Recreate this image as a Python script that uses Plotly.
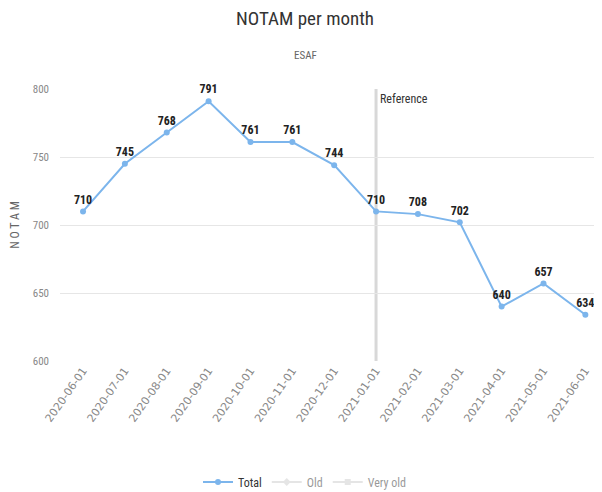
import plotly.graph_objects as go

months = ["2020-06-01", "2020-07-01", "2020-08-01", "2020-09-01", "2020-10-01",
          "2020-11-01", "2020-12-01", "2021-01-01", "2021-02-01", "2021-03-01",
          "2021-04-01", "2021-05-01", "2021-06-01"]
total = [710, 745, 768, 791, 761, 761, 744, 710, 708, 702, 640, 657, 634]
reference_month = "2021-01-01"
y_ticks = [600, 650, 700, 750, 800]

FONT = "Liberation Sans Narrow, Roboto Condensed, Arial Narrow, sans-serif"
WIDE = "DejaVu Sans, sans-serif"

# page body has an 8px default margin, so the figure is sized to fit the 602x492 window
W, H = 594, 484
L, R, T, B = 52, 2, 81, 131
PH = H - T - B
PW = W - L - R

fig = go.Figure()
fig.add_trace(go.Scatter(
    x=months, y=total, name="Total", mode="lines+markers+text",
    line=dict(color="#7cb5ec", width=2),
    marker=dict(color="#7cb5ec", size=6, symbol="circle"),
    text=["<b>%d</b>" % v for v in total], textposition="top center",
    textfont=dict(family=FONT, size=12, color="#222222"),
    cliponaxis=False,
))
fig.add_trace(go.Scatter(
    x=months, y=[None] * len(months), name="Old", mode="lines+markers",
    line=dict(color="#cccccc", width=2), marker=dict(color="#cccccc", symbol="diamond"),
    visible="legendonly",
))
fig.add_trace(go.Scatter(
    x=months, y=[None] * len(months), name="Very old", mode="lines+markers",
    line=dict(color="#cccccc", width=2), marker=dict(color="#cccccc", symbol="square"),
    visible="legendonly",
))

fig.add_shape(type="line", xref="x", yref="paper", x0=reference_month, x1=reference_month,
              y0=0, y1=1, line=dict(color="#d8d8d8", width=3), layer="below")
fig.add_annotation(x=reference_month, xref="x", y=1, yref="paper", text="Reference",
                   showarrow=False, xanchor="left", yanchor="top", xshift=2, yshift=-1,
                   font=dict(family=FONT, size=12, color="#333333"))

fig.update_layout(
    width=W, height=H,
    paper_bgcolor="white", plot_bgcolor="white",
    margin=dict(l=L, r=R, t=T, b=B, autoexpand=False),
    title=dict(text="NOTAM per month", x=0.5, xanchor="center", y=1 - 10 / H, yanchor="middle",
               font=dict(family=FONT, size=19, color="#333333")),
    font=dict(family=FONT, color="#666666"),
    showlegend=True,
    legend=dict(orientation="h", x=(297 - L) / PW, xref="paper", xanchor="center",
                y=-(474 - T - PH) / PH, yanchor="middle", itemwidth=30,
                font=dict(family=FONT, size=12, color="#333333"),
                itemclick="toggle"),
    xaxis=dict(type="category", range=[-0.55, 12.35], tickangle=-55, automargin=False,
               showgrid=False, showline=False, ticks="",
               tickfont=dict(family=WIDE, size=11, color="#888888")),
    yaxis=dict(range=[600, 800], tickvals=y_ticks, showgrid=True, gridcolor="#e6e6e6",
               automargin=False, zeroline=False, ticks="", ticklabelstandoff=10,
               tickfont=dict(family=FONT, size=11, color="#888888"),
               title=dict(text="N O T A M", font=dict(family=FONT, size=12, color="#666666"),
                          standoff=14)),
)
fig.add_annotation(text="ESAF", x=(297 - L) / PW, xref="paper", y=1 + (T - 47) / PH,
                   yref="paper", yanchor="middle", showarrow=False,
                   font=dict(family=FONT, size=11, color="#666666"))

fig.write_html("out.html")
